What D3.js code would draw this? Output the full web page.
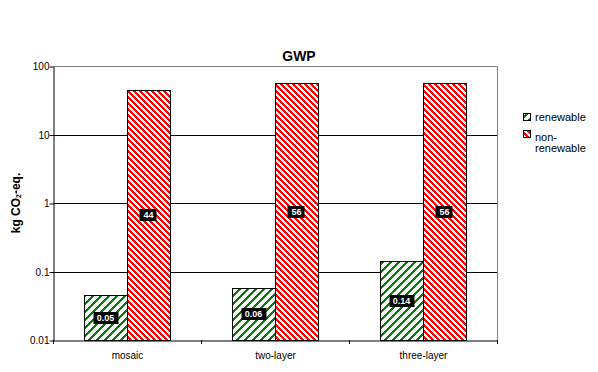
<!DOCTYPE html>
<html><head><meta charset="utf-8">
<script src="https://cdn.jsdelivr.net/npm/d3@7"></script>
<style>body{margin:0;background:#fff;font-family:"Liberation Sans",Arial,sans-serif}</style>
</head><body>
<svg id="c" width="598" height="372"></svg>
<script>
const categories = ["mosaic", "two-layer", "three-layer"];
const seriesNames = ["renewable", "non-renewable"];
const renewable = [0.045, 0.057, 0.141];
const nonRenewable = [44, 56, 56];
const renewableLabels = ["0.05", "0.06", "0.14"];
const nonRenewableLabels = ["44", "56", "56"];
const yTicks = [0.01, 0.1, 1, 10, 100];
const yTickLabels = ["0.01", "0.1", "1", "10", "100"];

const svg = d3.select("#c");
const m = {l: 53, r: 497, t: 66, b: 340};
const x0 = d3.scaleBand().domain(categories).range([m.l, m.r]).paddingInner(0).paddingOuter(0);
const x1 = d3.scaleBand().domain(seriesNames).range([0, 86]);
const y = d3.scaleLog().domain([0.01, 100]).range([m.b, m.t]);

const defs = svg.append("defs");
// pixel-exact diagonal hatch patterns
function stripes(id, color, period, thick, dir) {
  const p = defs.append("pattern").attr("id", id).attr("patternUnits", "userSpaceOnUse")
    .attr("width", period).attr("height", period);
  p.append("rect").attr("width", period).attr("height", period).attr("fill", "#fff");
  const cells = [];
  for (let r = 0; r < period; r++)
    for (let k = 0; k < thick; k++)
      cells.push({r, c: ((dir > 0 ? r : period - 1 - r) + k) % period});
  p.selectAll("rect.px").data(cells).join("rect").attr("class", "px")
    .attr("x", d => d.c).attr("y", d => d.r).attr("width", 1).attr("height", 1)
    .attr("fill", color).attr("shape-rendering", "crispEdges");
}
stripes("pg", "#008000", 8, 3, -1);
stripes("pr", "#ff0000", 6, 3, 1);

// grid lines
svg.append("g").selectAll("line").data(yTicks.filter(v => v > 0.01 && v < 100)).join("line")
  .attr("x1", m.l).attr("x2", m.r).attr("y1", d => Math.round(y(d)) + 0.5).attr("y2", d => Math.round(y(d)) + 0.5)
  .attr("stroke", "#000").attr("stroke-width", 1);
// plot border top/right
svg.append("path").attr("d", `M${m.l},${m.t + 0.5}H${m.r + 0.5}V${m.b}`).attr("fill", "none")
  .attr("stroke", "#808080");

// bars
const data = categories.map((c, i) => ({c, vals: [
  {s: "renewable", v: renewable[i], lab: renewableLabels[i], fill: "url(#pg)"},
  {s: "non-renewable", v: nonRenewable[i], lab: nonRenewableLabels[i], fill: "url(#pr)"}]}));
const off = Math.round((x0.bandwidth() - 86) / 2);
const g = svg.append("g").selectAll("g").data(data).join("g")
  .attr("transform", d => `translate(${Math.round(x0(d.c) + off)},0)`);
g.selectAll("rect").data(d => d.vals).join("rect")
  .attr("x", d => x1(d.s) + 0.5).attr("width", x1.bandwidth())
  .attr("y", d => Math.round(y(d.v)) + 0.5).attr("height", d => m.b - Math.round(y(d.v)))
  .attr("fill", d => d.fill).attr("stroke", "#000").attr("stroke-width", 1);

// value labels
const lg = g.selectAll("g.lab").data(d => d.vals).join("g").attr("class", "lab")
  .attr("transform", d => `translate(${x1(d.s) + x1.bandwidth() / 2},${Math.round((y(d.v) + m.b) / 2)})`);
lg.each(function(d) {
  const s = d3.select(this);
  const t = s.append("text").attr("text-anchor", "middle").attr("dy", "0.35em")
    .attr("font-size", 9).attr("font-weight", "bold").attr("fill", "#fff")
    .attr("font-family", "'Liberation Sans', Arial, sans-serif").text(d.lab);
  const w = t.node().getComputedTextLength() + 7;
  s.insert("rect", "text").attr("x", Math.round(-w / 2)).attr("y", -6).attr("width", Math.round(w)).attr("height", 12).attr("fill", "#000");
});

// axes
const yAxis = d3.axisLeft(y).tickValues(yTicks).tickFormat((d, i) => yTickLabels[i]).tickSize(4).tickSizeOuter(0);
const ya = svg.append("g").attr("transform", `translate(${m.l + 0.5},0.5)`).call(yAxis);
ya.selectAll("text").attr("font-size", 10).attr("font-family", "'Liberation Sans', Arial, sans-serif").attr("fill", "#000").attr("x", -4);
ya.select(".domain").attr("stroke", "#000");

const xa = svg.append("g").attr("transform", `translate(0.5,${m.b + 0.5})`).call(d3.axisBottom(x0).tickSize(0).tickPadding(11));
xa.selectAll("text").attr("font-size", 10).attr("font-family", "'Liberation Sans', Arial, sans-serif").attr("fill", "#000");
xa.select(".domain").attr("stroke", "#000");
const bounds = categories.map(c => x0(c)).concat([m.r]);
svg.append("g").selectAll("line").data(bounds).join("line")
  .attr("x1", d => Math.round(d) + 0.5).attr("x2", d => Math.round(d) + 0.5).attr("y1", m.b).attr("y2", m.b + 4).attr("stroke", "#000");

// title
svg.append("text").attr("x", 299).attr("y", 61).attr("text-anchor", "middle")
  .attr("font-size", 14).attr("font-weight", "bold").text("GWP");
// y title
svg.append("text").attr("transform", "translate(20,203) rotate(-90)").attr("text-anchor", "middle")
  .attr("font-size", 12).attr("font-weight", "bold")
  .html('kg CO<tspan font-size="7" dy="1">2</tspan><tspan dy="-1">-eq.</tspan>');

// legend
const leg = svg.append("g");
leg.append("rect").attr("x", 523.5).attr("y", 113.5).attr("width", 7).attr("height", 7)
  .attr("fill", "url(#pg)").attr("stroke", "#000").attr("stroke-width", 1);
leg.append("rect").attr("x", 523.5).attr("y", 130.5).attr("width", 7).attr("height", 7)
  .attr("fill", "url(#pr)").attr("stroke", "#000").attr("stroke-width", 1);
leg.append("text").attr("x", 535).attr("y", 121).attr("font-size", 11).text("renewable");
leg.append("text").attr("x", 535).attr("y", 141).attr("font-size", 11).text("non-");
leg.append("text").attr("x", 535).attr("y", 152).attr("font-size", 11).text("renewable");
</script>
</body></html>
